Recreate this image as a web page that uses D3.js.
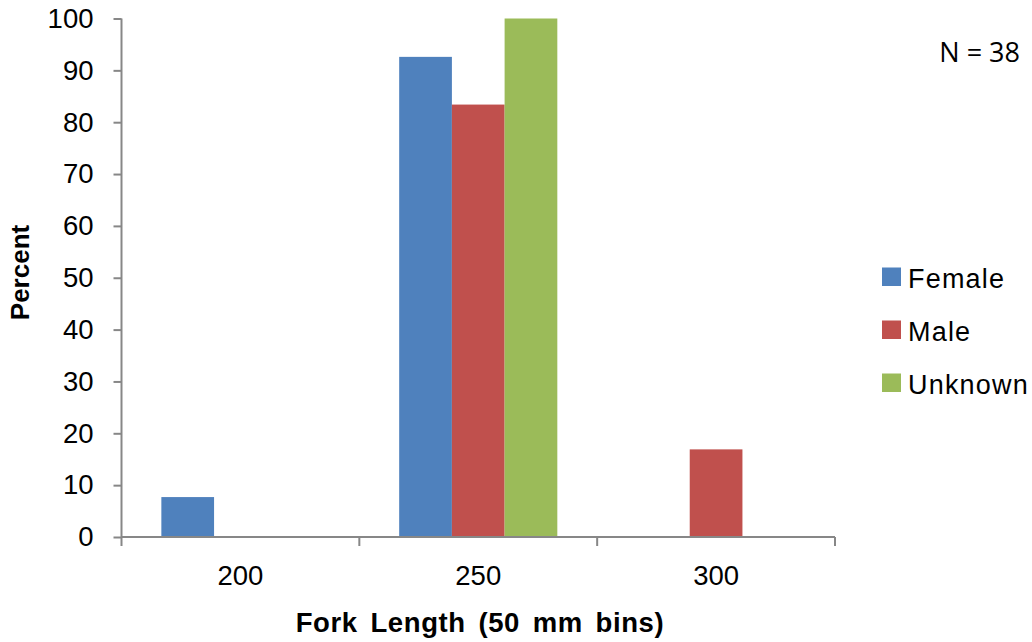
<!DOCTYPE html>
<html>
<head>
<meta charset="utf-8">
<script src="https://cdn.jsdelivr.net/npm/d3@7"></script>
<style>
  html, body { margin: 0; padding: 0; background: #fff; }
  svg { display: block; }
</style>
</head>
<body>
<svg id="chart" width="1032" height="642"></svg>
<script>
const categories = ["200", "250", "300"];
const seriesNames = ["Female", "Male", "Unknown"];
const female = [7.7, 92.6, 0];
const male = [0, 83.4, 16.9];
const unknown = [0, 100, 0];
const yTicks = [0, 10, 20, 30, 40, 50, 60, 70, 80, 90, 100];
const colors = ["#4F81BD", "#C0504D", "#9BBB59"];
const sampleLabel = "N = 38";

(function () {
const seriesValues = [female, male, unknown];
const data = categories.map((c, i) => ({
  cat: c,
  vals: seriesNames.map((s, j) => ({ key: s, value: seriesValues[j][i], color: colors[j] }))
}));

const svg = d3.select("#chart");
const pLeft = 121.5, pRight = 835, pTop = 18.5, pBottom = 537;
const axisColor = "#878787";

const x0 = d3.scaleBand().domain(categories).range([pLeft, pRight]).padding(0);
const x1 = d3.scaleBand().domain(seriesNames).range([0, x0.bandwidth()])
  .paddingInner(0).paddingOuter(0.756);
const y = d3.scaleLinear().domain([0, 100]).range([pBottom, pTop]);

// bars
const groups = svg.append("g").selectAll("g").data(data).join("g")
  .attr("transform", d => `translate(${x0(d.cat)},0)`);
groups.selectAll("rect").data(d => d.vals.filter(v => v.value > 0)).join("rect")
  .attr("x", d => x1(d.key))
  .attr("width", x1.bandwidth())
  .attr("y", d => y(d.value))
  .attr("height", d => y(0) - y(d.value))
  .attr("fill", d => d.color);

// y axis
const yAxis = svg.append("g").attr("transform", `translate(${pLeft},0)`)
  .call(d3.axisLeft(y).tickValues(yTicks).tickSize(8).tickPadding(20).tickFormat(d3.format("d")));
yAxis.select(".domain").attr("stroke", axisColor).attr("stroke-width", 2)
  .attr("d", `M0,${pTop}V${pBottom}`);
yAxis.selectAll(".tick line").attr("stroke", axisColor).attr("stroke-width", 2);
yAxis.selectAll(".tick text").attr("font-family", "Liberation Sans, Arial, sans-serif")
  .attr("font-size", 27.5).attr("fill", "#000");

// x axis
const xAxis = svg.append("g").attr("transform", `translate(0,${pBottom})`)
  .call(d3.axisBottom(x0).tickSize(0).tickPadding(28));
xAxis.select(".domain").attr("stroke", axisColor).attr("stroke-width", 2)
  .attr("d", `M${pLeft},0H${pRight}`);
xAxis.selectAll(".tick text").attr("font-family", "Liberation Sans, Arial, sans-serif")
  .attr("font-size", 27.5).attr("fill", "#000");
// category boundary tick marks
const boundaries = categories.map(c => x0(c)).concat([x0(categories[categories.length - 1]) + x0.bandwidth()]);
svg.append("g").selectAll("line").data(boundaries).join("line")
  .attr("x1", d => d).attr("x2", d => d)
  .attr("y1", pBottom).attr("y2", pBottom + 9)
  .attr("stroke", axisColor).attr("stroke-width", 2);

// axis titles
svg.append("text")
  .attr("x", 480).attr("y", 631.5)
  .attr("text-anchor", "middle")
  .attr("font-family", "Liberation Sans, Arial, sans-serif")
  .attr("font-weight", "bold").attr("font-size", 27.5)
  .attr("letter-spacing", 0.6)
  .attr("word-spacing", 4.5)
  .text("Fork Length (50 mm bins)");

svg.append("text")
  .attr("transform", "translate(29,272.5) rotate(-90)")
  .attr("text-anchor", "middle")
  .attr("font-family", "Liberation Sans, Arial, sans-serif")
  .attr("font-weight", "bold").attr("font-size", 26)
  .text("Percent");

// legend
const legend = svg.append("g").selectAll("g").data(seriesNames).join("g")
  .attr("transform", (d, i) => `translate(882,${267.5 + i * 53})`);
legend.append("rect").attr("width", 19).attr("height", 18.5)
  .attr("fill", (d, i) => colors[i]);
legend.append("text").attr("x", 26).attr("y", 20.3)
  .attr("font-family", "Liberation Sans, Arial, sans-serif")
  .attr("font-size", 27).attr("letter-spacing", 1.2)
  .text(d => d);

// N label
svg.append("text")
  .attr("x", 1020).attr("y", 62.3)
  .attr("text-anchor", "end")
  .attr("font-family", "Open Sans, sans-serif")
  .attr("font-size", 27)
  .text(sampleLabel);
})();
</script>
</body>
</html>
